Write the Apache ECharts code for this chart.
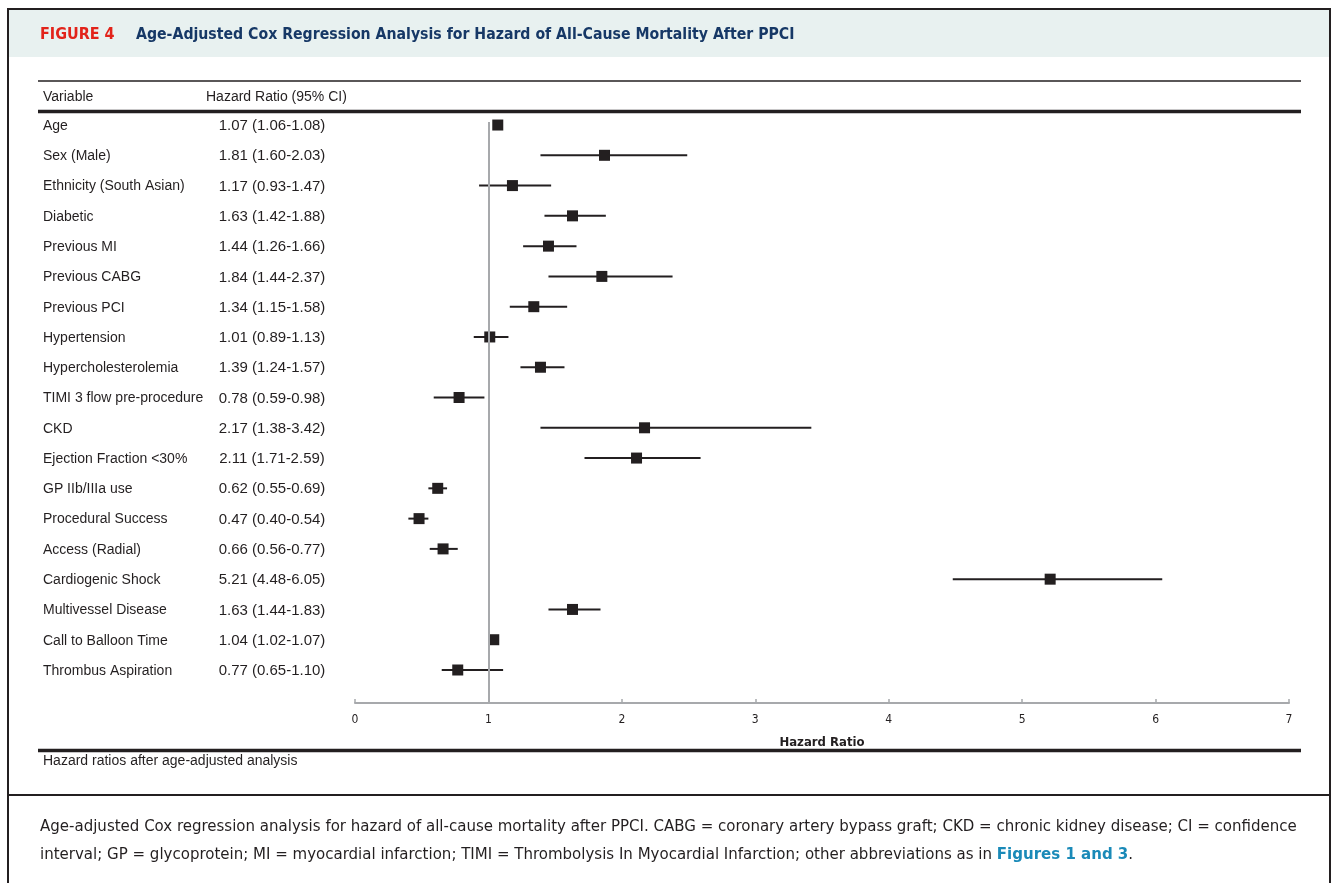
<!DOCTYPE html>
<html>
<head>
<meta charset="utf-8">
<script src="https://cdn.jsdelivr.net/npm/echarts@6/dist/echarts.min.js"></script>
<style>
html,body{margin:0;padding:0;background:#fff;}
#chart{width:1336px;height:883px;}
</style>
</head>
<body>
<div id="chart"></div>
<script>
// ---- data ----
const variables = ['Age','Sex (Male)','Ethnicity (South Asian)','Diabetic','Previous MI','Previous CABG','Previous PCI','Hypertension','Hypercholesterolemia','TIMI 3 flow pre-procedure','CKD','Ejection Fraction <30%','GP IIb/IIIa use','Procedural Success','Access (Radial)','Cardiogenic Shock','Multivessel Disease','Call to Balloon Time','Thrombus Aspiration'];
const hrLabels = ['1.07 (1.06-1.08)','1.81 (1.60-2.03)','1.17 (0.93-1.47)','1.63 (1.42-1.88)','1.44 (1.26-1.66)','1.84 (1.44-2.37)','1.34 (1.15-1.58)','1.01 (0.89-1.13)','1.39 (1.24-1.57)','0.78 (0.59-0.98)','2.17 (1.38-3.42)','2.11 (1.71-2.59)','0.62 (0.55-0.69)','0.47 (0.40-0.54)','0.66 (0.56-0.77)','5.21 (4.48-6.05)','1.63 (1.44-1.83)','1.04 (1.02-1.07)','0.77 (0.65-1.10)'];
// plotted positions as drawn in the figure
const hrPoint = [1.07,1.87,1.18,1.63,1.45,1.85,1.34,1.01,1.39,0.78,2.17,2.11,0.62,0.48,0.66,5.21,1.63,1.04,0.77];
const ciLow   = [1.06,1.39,0.93,1.42,1.26,1.45,1.16,0.89,1.24,0.59,1.39,1.72,0.55,0.40,0.56,4.48,1.45,1.02,0.65];
const ciHigh  = [1.08,2.49,1.47,1.88,1.66,2.38,1.59,1.15,1.57,0.97,3.42,2.59,0.69,0.55,0.77,6.05,1.84,1.07,1.11];
const xTicks = [0,1,2,3,4,5,6,7];
const refValue = 1;
const headerVariable = 'Variable';
const headerHR = 'Hazard Ratio (95% CI)';
const xAxisName = 'Hazard Ratio';
const figLabel = 'FIGURE 4';
const figTitle = 'Age-Adjusted Cox Regression Analysis for Hazard of All-Cause Mortality After PPCI';
const footNote = 'Hazard ratios after age-adjusted analysis';
const caption1 = 'Age-adjusted Cox regression analysis for hazard of all-cause mortality after PPCI. CABG = coronary artery bypass graft; CKD = chronic kidney disease; CI = confidence';
const caption2a = 'interval; GP = glycoprotein; MI = myocardial infarction; TIMI = Thrombolysis In Myocardial Infarction; other abbreviations as in ';
const caption2b = 'Figures 1 and 3';

const DARK = '#231f20';
const COND = '"DejaVu Sans Condensed","Liberation Sans Narrow",sans-serif';
const ARIAL = '"Liberation Sans",Arial,sans-serif';

const chart = echarts.init(document.getElementById('chart'), null, {renderer:'canvas'});

const rows = variables.map((v,i)=>i);

const option = {
  animation:false,
  backgroundColor:'#fff',
  grid:{left:355, right:47, top:122, bottom:180, containLabel:false},
  xAxis:{
    type:'value', min:xTicks[0], max:xTicks[xTicks.length-1], interval:1,
    axisLine:{show:true, onZero:false, lineStyle:{color:'#a7a9ac', width:2}},
    axisTick:{show:true, inside:true, length:4, lineStyle:{color:'#a7a9ac', width:1.5}},
    axisLabel:{color:DARK, fontFamily:COND, fontSize:12, margin:11},
    splitLine:{show:false},
    name:xAxisName, nameLocation:'middle', nameGap:33,
    nameTextStyle:{color:DARK, fontFamily:COND, fontSize:13, fontWeight:'bold'}
  },
  yAxis:{
    type:'value', inverse:true, min:-0.1, max:19.09, show:false
  },
  graphic:[
    {type:'rect', z:-10, shape:{x:8,y:9,width:1322,height:900}, style:{fill:'#fff', stroke:DARK, lineWidth:2}},
    {type:'rect', z:-9, shape:{x:9,y:10,width:1320,height:47}, style:{fill:'#e8f1f0'}},
    {type:'text', style:{x:40, y:35, text:figLabel, font:'bold 16px '+COND, fill:'#e2231a', verticalAlign:'middle'}},
    {type:'text', style:{x:136, y:35, text:figTitle, font:'bold 15.7px '+COND, fill:'#163866', verticalAlign:'middle'}},
    {type:'line', shape:{x1:38,y1:81,x2:1301,y2:81}, style:{stroke:DARK, lineWidth:1.5}},
    {type:'text', style:{x:43, y:97, text:headerVariable, font:'14px '+ARIAL, fill:DARK, verticalAlign:'middle'}},
    {type:'text', style:{x:206, y:97, text:headerHR, font:'14px '+ARIAL, fill:DARK, verticalAlign:'middle'}},
    {type:'line', shape:{x1:38,y1:111.5,x2:1301,y2:111.5}, style:{stroke:DARK, lineWidth:3.5}},
    {type:'line', shape:{x1:38,y1:750.5,x2:1301,y2:750.5}, style:{stroke:DARK, lineWidth:3.5}},
    {type:'text', style:{x:43, y:761, text:footNote, font:'14px '+ARIAL, fill:DARK, verticalAlign:'middle'}},
    {type:'line', shape:{x1:8,y1:795,x2:1330,y2:795}, style:{stroke:DARK, lineWidth:2}},
    {type:'text', style:{x:40, y:827, text:caption1, font:'16.7px '+COND, fill:DARK, verticalAlign:'middle'}},
    {type:'text', style:{x:40, y:855, text:'{a|'+caption2a+'}{b|'+caption2b+'}{a|.}', verticalAlign:'middle', fill:DARK,
      rich:{a:{fontFamily:COND, fontSize:16.7, fill:DARK},
            b:{fontFamily:COND, fontSize:16.7, fontWeight:'bold', fill:'#1a8ab8'}}}}
  ],
  series:[
    {
      type:'custom', name:'labels', silent:true,
      data: rows.map(i=>[0,i]),
      renderItem:function(params, api){
        const i = api.value(1);
        const y = api.coord([0,i])[1] + 1;
        return {type:'group', children:[
          {type:'text', style:{x:43, y:y, text:variables[i], font:'14px '+ARIAL, fill:DARK, verticalAlign:'middle'}},
          {type:'text', style:{x:272, y:y, text:hrLabels[i], font:'15px '+ARIAL, fill:DARK, align:'center', verticalAlign:'middle'}}
        ]};
      },
      markLine:{silent:true, symbol:'none', label:{show:false},
        lineStyle:{color:'#a7a9ac', width:2, type:'solid'},
        data:[{xAxis:refValue}]}
    },
    {
      type:'custom', name:'CI', silent:true,
      data: rows.map(i=>[ciLow[i], ciHigh[i], i]),
      renderItem:function(params, api){
        const p1 = api.coord([api.value(0), api.value(2)]);
        const p2 = api.coord([api.value(1), api.value(2)]);
        return {type:'line', shape:{x1:p1[0], y1:p1[1], x2:p2[0], y2:p2[1]}, style:{stroke:DARK, lineWidth:2}};
      },
      z:3
    },
    {
      type:'scatter', name:'HR', silent:true, symbol:'rect', symbolSize:11,
      itemStyle:{color:DARK, opacity:1},
      data: rows.map(i=>[hrPoint[i], i]),
      z:4
    }
  ]
};
chart.setOption(option);
</script>
</body>
</html>
